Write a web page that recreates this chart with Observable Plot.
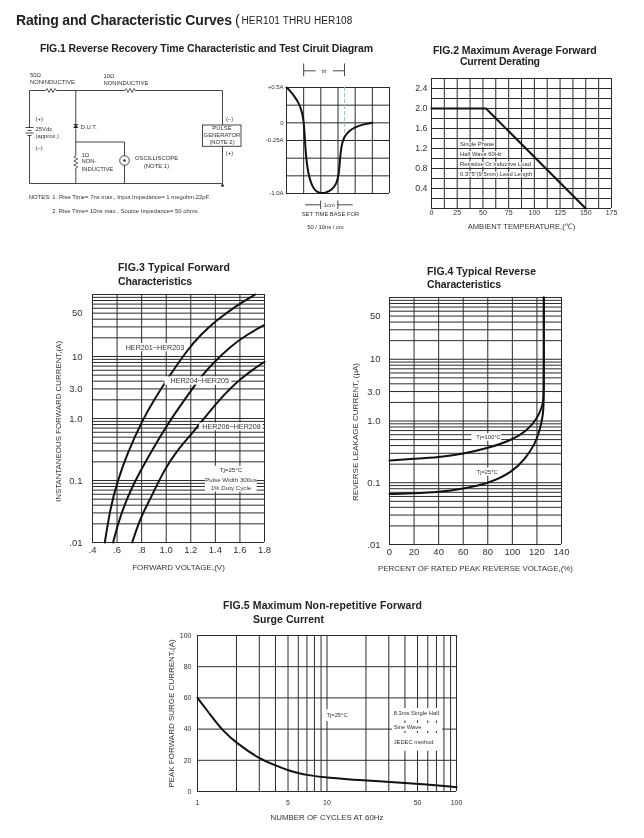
<!DOCTYPE html>
<html><head><meta charset="utf-8">
<script src="https://cdn.jsdelivr.net/npm/d3@7"></script>
<script src="https://cdn.jsdelivr.net/npm/@observablehq/plot@0.6"></script>
<style>
html,body{margin:0;padding:0;background:#fff}
#page{position:relative;width:644px;height:838px;overflow:hidden;background:#fff;filter:blur(.35px)}
#page svg{position:absolute;background:transparent;overflow:visible}
.t{position:absolute;white-space:nowrap;font-family:"Liberation Sans",Arial,sans-serif;line-height:1;color:#222}
</style></head><body><div id="page"></div>
<script>
// ---------- Titles ----------
const mainTitle = "Rating and Characteristic Curves";
const mainSub = "HER101 THRU HER108";
const titles = [
  ["FIG.1 Reverse Recovery Time Characteristic and Test Ciruit Diagram",40,48,333],
  ["FIG.2 Maximum Average Forward",433,50,164],
  ["Current Derating",460,61,80],
  ["FIG.3 Typical Forward",118,267,112],
  ["Characteristics",118,281,74],
  ["FIG.4 Typical Reverse",427,271,109],
  ["Characteristics",427,284,74],
  ["FIG.5 Maximum Non-repetitive Forward",223,605,199],
  ["Surge Current",253,619,71]
];
// ---------- Log grid shared by FIG.3 / FIG.4 ----------
const logGrid = [.01,.02,.03,.04,.05,.06,.07,.08,.09,.1,.2,.3,.4,.5,.6,.7,.8,.9,1,2,3,4,5,6,7,8,9,10,20,30,40,50,60,70,80,90,100];
const logTicks = [.01,.1,1,3,10,50];
const logTickLabels = [".01","0.1","1.0","3.0","10","50"];
// ---------- FIG.1 waveform ----------
const waveCm = [0,.21,.44,.70,.87,.99,1.04,1.10,1.18,1.32,1.51,1.74,2.01,2.34,2.67,2.9,3.04,3.11,3.19,3.35,3.64,4.02,4.51,5];
const waveA = [.5,.453,.382,.288,.184,.052,-.113,-.349,-.585,-.774,-.906,-.976,-1,-.986,-.939,-.868,-.75,-.538,-.325,-.198,-.113,-.057,-.019,0];
const waveGridX = [0,1,2,3,4,5,6];
const waveGridY = [-1,-.75,-.5,-.25,0,.25,.5];
const waveTicks = [.5,0,-.25,-1];
const waveTickLabels = ["+0.5A","0","-0.25A","-1.0A"];
// ---------- FIG.2 derating ----------
const deratingT = [0,53,150];
const deratingA = [2,2,0];
const fig2GridX = d3.range(0,175.1,12.5);
const fig2GridY = d3.range(0,2.61,.2);
const fig2TicksX = [0,25,50,75,100,125,150,175];
const fig2TicksY = [.4,.8,1.2,1.6,2.0,2.4];
const fig2Notes = ["Single Phase","Half Wave 60Hz","Resistive Or Inductive Load","0.375\"(9.5mm) Lead Length"];
const fig2NotesY = [1.28,1.088,.888,.688];
// ---------- FIG.3 forward ----------
const her201V = [.50,.5465,.601,.682,.8045,.90,1.008,1.17,1.278,1.40,1.576,1.724];
const her201I = [.01,.0371,.094,.27,.929,1.98,4.31,12.65,22.1,37.2,67.3,100];
const her204V = [.568,.614,.695,.791,.899,1.029,1.224,1.29,1.386,1.522,1.657,1.797];
const her204I = [.01,.0226,.061,.145,.344,.929,3.24,4.88,8,14.5,22.6,32];
const her206V = [.723,.791,.872,.98,1.089,1.192,1.252,1.415,1.603,1.80];
const her206I = [.01,.0256,.0507,.145,.305,.52,.724,1.85,4.5,8.2];
const fig3TicksX = [.4,.6,.8,1,1.2,1.4,1.6,1.8];
const fig3TickLabelsX = [".4",".6",".8","1.0","1.2","1.4","1.6","1.8"];
const fig3Masks = [[.67,1.15,11.9,16.3],[.99,1.535,3.45,4.7],[1.272,1.79,.63,.85],[1.319,1.74,.065,.17]];
const fig3Labels = [["HER201~HER203",.908,14],["HER204~HER205",1.273,4],["HER206~HER208",1.532,.73]];
const fig3Cond = [["Tj=25°C",1.527,.145],["Pulse Width 300us",1.527,.1],["1% Duty Cycle",1.527,.075]];
// ---------- FIG.4 reverse ----------
const tj100P = [0,20,40,60,80,100,112,120,124.8,125.6,125.6,125.6];
const tj100I = [.229,.244,.259,.294,.362,.494,.70,1.08,1.77,2.56,10,100];
const tj25P = [0,20,40,60,80,100,110.4,118.6,122.6,124.8,125.6,125.6,125.6];
const tj25I = [.0656,.0673,.0706,.08,.0964,.149,.244,.426,.743,1.22,1.77,10,100];
const fig4TicksX = [0,20,40,60,80,100,120,140];
const fig4Masks = [[67,91.4,.47,.617],[69.7,90,.128,.172]];
const fig4Labels = [["Tj=100°C",80.6,.54],["Tj=25°C",79.5,.149]];
// ---------- FIG.5 surge ----------
const cycles = [1,1.27,1.56,2,3,4,5,6,7,10,20,30,50,100];
const surgeA = [60,48.7,39.1,31,20.9,16.7,13.5,11.8,10.6,8.8,7,6.2,5,2.8];
const fig5GridX = [1,2,3,4,5,6,7,8,9,10,20,30,40,50,60,70,80,90,100];
const fig5GridY = [0,20,40,60,80,100];
const fig5TicksX = [1,5,10,50,100];
const fig5Masks = [[9.5,15.6,44.9,52.4],[32,78,45.2,53.2],[32,78,38.5,43.6],[32,78,25.8,37.2]];
const fig5Labels = [["Tj=25°C",9.9,48.7],["8.3ms Single Half",32.7,50.4],["Sine Wave",32.7,41],["JEDEC method",32.7,31.6]];
// ---------- FIG.1 circuit, in schematic units ----------
const wires = [
  [29,90,45,90],[56,90,124,90],[135,90,222,90],[29,90,29,127],[29,135,29,183],[29,183,222,183],
  [75.3,90,75.3,124],[75.3,128,75.3,155],[75.3,168,75.3,183],[75.3,141.5,124,141.5],[124,141.5,124,183],[222,90,222,183],
  [25,127,33,127],[27,130,31,130],[25,132.5,33,132.5],[27,135,31,135],[73,124,77.6,124]
];
const resistorTop1 = [[45,90],[46.5,88],[48.5,92],[50.5,88],[52.5,92],[54.5,88],[56,90]];
const resistorTop2 = [[124,90],[125.5,88],[127.5,92],[129.5,88],[131.5,92],[133.5,88],[135,90]];
const resistorDut = [[75.3,155],[73.3,156.5],[77.3,158.5],[73.3,160.5],[77.3,162.5],[73.3,164.5],[77.3,166.5],[75.3,168]];
const circuitText = [
  ["50Ω",29.5,75,"start"],["NONINDUCTIVE",29.5,81.7,"start"],["10Ω",103,76,"start"],["NONINDUCTIVE",103,83,"start"],
  ["(+)",35,119,"start"],["25Vdc",35,128.7,"start"],["(approx.)",35,135.3,"start"],["(–)",35,147.7,"start"],
  ["D.U.T.",80,126.3,"start"],["1Ω",81,155,"start"],["NON-",81,160.7,"start"],["INDUCTIVE",81,168.3,"start"],
  ["OSCILLISCOPE",156,157.7,"middle"],["(NOTE 1)",156,165.7,"middle"],["(–)",229,118.3,"middle"],
  ["PULSE",221.5,128,"middle"],["GENERATOR",221.5,135,"middle"],["(NOTE 2)",221.5,141.3,"middle"],["(+)",229,152.3,"middle"],
  ["NOTES: 1. Rise Time= 7ns max., Input Impedance= 1 megohm.22pF.",28.3,196.3,"start"],
  ["2. Rise Time= 10ns max., Source Impedance= 50 ohms.",51.7,210.3,"start"]
];

// ---------- helpers ----------
const page = document.getElementById("page");
const INK = "#2b2b2b", TXT = "#333";
const FONT = '"Liberation Sans", Arial, sans-serif';
const zip = (a,b)=>a.map((x,i)=>({x,y:b[i]}));
const ctx = document.createElement("canvas").getContext("2d");
function label(text,x,cy,fs,weight,targetW){
  const d=document.createElement("div");d.className="t";d.textContent=text;
  d.style.left=x+"px";d.style.top=(cy-fs/2)+"px";d.style.fontSize=fs+"px";d.style.fontWeight=weight;
  if(targetW){ctx.font=`${weight} ${fs}px "Liberation Sans"`;
    d.style.letterSpacing=((targetW-ctx.measureText(text).width)/(text.length-1))+"px";}
  page.appendChild(d);
}
function place(L,T,R,B,m,opts){
  const svg=Plot.plot({width:R-L+m.l+m.r,height:B-T+m.t+m.b,marginLeft:m.l,marginRight:m.r,marginTop:m.t,marginBottom:m.b,
    style:{fontFamily:FONT,background:"transparent",color:TXT,overflow:"visible"},...opts});
  svg.style.left=(L-m.l)+"px";svg.style.top=(T-m.t)+"px";
  page.appendChild(svg);return svg;
}
const grid=(xs,ys,sw=1)=>[Plot.ruleX(xs,{stroke:INK,strokeWidth:sw}),Plot.ruleY(ys,{stroke:INK,strokeWidth:sw})];
const masks=arr=>Plot.rect(arr,{x1:d=>d[0],x2:d=>d[1],y1:d=>d[2],y2:d=>d[3],fill:"white"});
const txt=(arr,fs,anchor="middle")=>Plot.text(arr,{x:d=>d[1],y:d=>d[2],text:d=>d[0],fontSize:fs,fill:TXT,textAnchor:anchor,lineAnchor:"middle"});
const curve=(a,b,c="basis",sw=2)=>Plot.line(zip(a,b),{x:"x",y:"y",curve:c,stroke:"#111",strokeWidth:sw});
const xTitle=(s,fs,dy)=>Plot.text([s],{text:d=>d,frameAnchor:"bottom",textAnchor:"middle",lineAnchor:"middle",dy,fontSize:fs,fill:TXT});
const yTitle=(s,fs,dx,dy)=>Plot.text([s],{text:d=>d,frameAnchor:"left",textAnchor:"middle",rotate:-90,lineAnchor:"middle",dx,dy,fontSize:fs,fill:TXT});
const yTickText=(vals,labs,fs,pad)=>Plot.text(vals,{y:d=>d,text:(d,i)=>labs[i],frameAnchor:"left",textAnchor:"end",lineAnchor:"middle",dx:-pad,fontSize:fs,fill:TXT});
const xTickText=(vals,labs,fs,dy)=>Plot.text(vals,{x:d=>d,text:(d,i)=>labs[i],frameAnchor:"bottom",textAnchor:"middle",lineAnchor:"middle",dy,fontSize:fs,fill:TXT});

// ---------- headings ----------
label(mainTitle,16,20,14,"bold",216);
label("(",235,20,14.5,"normal");
label(mainSub,241.5,21,10,"normal",111);
for(const [s,x,y,w] of titles) label(s,x,y,10.5,"bold",w);

// ---------- FIG.1 circuit ----------
place(0,0,260,240,{l:0,r:0,t:0,b:0},{
  x:{domain:[0,260],range:[0,260],axis:null},y:{domain:[0,240],range:[0,240],axis:null},
  marks:[
    Plot.link(wires,{x1:d=>d[0],y1:d=>d[1],x2:d=>d[2],y2:d=>d[3],stroke:"#333",strokeWidth:.9}),
    ...[resistorTop1,resistorTop2,resistorDut].map(r=>Plot.line(r,{x:d=>d[0],y:d=>d[1],stroke:"#333",strokeWidth:.8})),
    Plot.dot([[75.3,126.2]],{x:d=>d[0],y:d=>d[1],symbol:"triangle",r:1.8,fill:"#222",stroke:"none"}),
    Plot.dot([[124,160]],{x:d=>d[0],y:d=>d[1],r:4.8,fill:"white",stroke:"#333",strokeWidth:.9}),
    Plot.dot([[124,160]],{x:d=>d[0],y:d=>d[1],r:1.3,fill:"#333",stroke:"none"}),
    Plot.dot([[222,185]],{x:d=>d[0],y:d=>d[1],r:1.3,fill:"#111",stroke:"none"}),
    Plot.rect([[202.5,241,125,146.3]],{x1:d=>d[0],x2:d=>d[1],y1:d=>d[2],y2:d=>d[3],fill:"white",stroke:"#333",strokeWidth:.9}),
    txt(circuitText.filter(d=>d[3]==="start"),5.9,"start"),
    txt(circuitText.filter(d=>d[3]==="middle"),5.9,"middle")
  ]});

// ---------- FIG.1 waveform ----------
place(286,87,389,193,{l:34,r:6,t:30,b:45},{
  x:{domain:[0,6],axis:null},y:{domain:[-1,.5],axis:null},
  marks:[
    ...grid(waveGridX,waveGridY),
    Plot.ruleX([3.38],{y1:.5,y2:-.2,stroke:"#9fc4c4",strokeDasharray:"4,2",strokeWidth:1}),
    curve(waveCm,waveA),
    Plot.axisY({ticks:waveTicks,tickFormat:d=>waveTickLabels[waveTicks.indexOf(d)],tickSize:0,tickPadding:3,fontSize:6,label:null,stroke:"none"}),
    Plot.link([[1,.736,1.7,.736],[2.7,.736,3.38,.736],[1,.66,1,.84],[3.38,.66,3.38,.84],[1.08,-1.16,1.99,-1.16],[2.99,-1.16,3.86,-1.16],[1.99,-1.1,1.99,-1.22],[2.99,-1.1,2.99,-1.22]],
      {x1:d=>d[0],y1:d=>d[1],x2:d=>d[2],y2:d=>d[3],stroke:"#333",strokeWidth:.9}),
    txt([["trr",2.2,.736],["1cm",2.49,-1.16],["SET TIME BASE FOR",2.56,-1.297],["50 / 10ns / cm",2.27,-1.48]],5.8)
  ]});

// ---------- FIG.2 ----------
place(431,78,611,208,{l:30,r:10,t:5,b:28},{
  x:{domain:[0,175],axis:null},y:{domain:[0,2.6],axis:null},
  marks:[
    ...grid(fig2GridX,fig2GridY),
    curve(deratingT,deratingA,"linear",2),
    Plot.text(fig2Notes,{text:d=>d,x:27.8,y:(d,i)=>fig2NotesY[i],fontSize:5.8,textAnchor:"start",lineAnchor:"middle",fill:TXT,stroke:"white",strokeWidth:2,paintOrder:"stroke"}),
    Plot.axisY({ticks:fig2TicksY,tickFormat:d=>d.toFixed(1),tickSize:0,tickPadding:4,fontSize:8.8,label:null}),
    Plot.axisX({ticks:fig2TicksX,tickFormat:d=>d,tickSize:0,tickPadding:2,fontSize:7,label:null}),
    xTitle("AMBIENT TEMPERATURE,(℃)",7.6,18)
  ]});

// ---------- FIG.3 ----------
place(92,294,264,542,{l:40,r:10,t:5,b:32},{
  x:{domain:[.4,1.8],axis:null},y:{type:"log",domain:[.01,100],axis:null},
  marks:[
    ...grid(fig3TicksX,logGrid),
    curve(her201V,her201I),curve(her204V,her204I),curve(her206V,her206I),
    masks(fig3Masks),
    txt(fig3Labels,7.2),txt(fig3Cond,6.2),
    yTickText(logTicks,logTickLabels,9.5,10),
    Plot.axisX({ticks:fig3TicksX,tickFormat:d=>fig3TickLabelsX[fig3TicksX.indexOf(d)],tickSize:0,tickPadding:4,fontSize:9.5,label:null}),
    xTitle("FORWARD VOLTAGE,(V)",8,25),
    yTitle("INSTANTANEOUS FORWARD CURRENT,(A)",7.9,-34,3)
  ]});

// ---------- FIG.4 ----------
place(389,297,561,544,{l:40,r:10,t:5,b:32},{
  x:{domain:[0,140],axis:null},y:{type:"log",domain:[.01,100],axis:null},
  marks:[
    ...grid(fig4TicksX,logGrid),
    curve(tj100P,tj100I),curve(tj25P,tj25I),
    masks(fig4Masks),
    txt(fig4Labels,5.8),
    yTickText(logTicks,logTickLabels,9.5,9),
    Plot.axisX({ticks:fig4TicksX,tickFormat:d=>d,tickSize:0,tickPadding:4,fontSize:9.5,label:null}),
    xTitle("PERCENT OF RATED PEAK REVERSE VOLTAGE,(%)",7.9,24),
    yTitle("REVERSE LEAKAGE CURRENT, (µA)",8,-34,11)
  ]});

// ---------- FIG.5 ----------
place(197,635,456,791,{l:30,r:10,t:5,b:32},{
  x:{type:"log",domain:[1,100],axis:null},y:{domain:[0,100],axis:null},
  marks:[
    ...grid(fig5GridX,fig5GridY),
    curve(cycles,surgeA),
    masks(fig5Masks),
    txt(fig5Labels,5.8,"start"),
    Plot.axisY({ticks:fig5GridY,tickFormat:d=>d,tickSize:0,tickPadding:6,fontSize:7,label:null}),
    xTickText(fig5TicksX,fig5TicksX,7,11),
    xTitle("NUMBER OF CYCLES AT 60Hz",7.9,26),
    yTitle("PEAK FORWARD SURGE CURRENT,(A)",8,-26,0)
  ]});
</script></body></html>
